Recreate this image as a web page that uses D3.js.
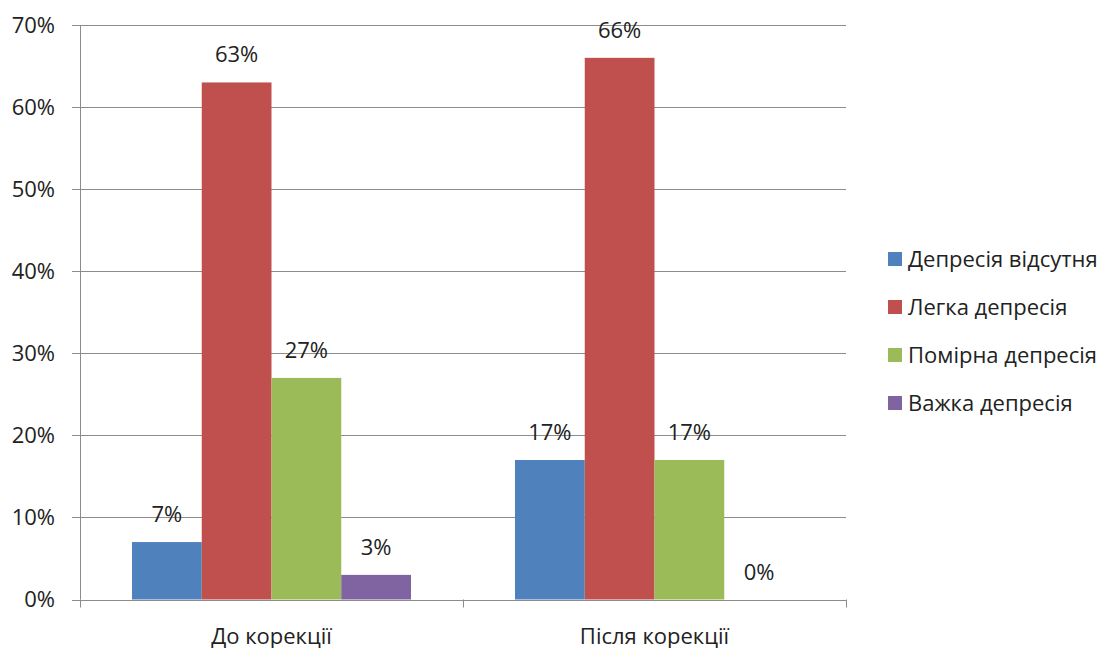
<!DOCTYPE html>
<html>
<head>
<meta charset="utf-8">
<script src="https://cdn.jsdelivr.net/npm/d3@7"></script>
<style>
  html, body { margin: 0; padding: 0; background: #fff; }
  svg { display: block; }
  text { font-family: "Open Sans", "Liberation Sans", sans-serif; fill: #222; }
</style>
</head>
<body>
<svg id="chart" width="1117" height="648"></svg>
<script>
// Groups along the x axis
const groups = ["До корекції", "Після корекції"];
// Series names (legend order)
const seriesNames = ["Депресія відсутня", "Легка депресія", "Помірна депресія", "Важка депресія"];
const seriesColors = ["#4f81bd", "#c0504d", "#9bbb59", "#8064a2"];
// Percent values per series, one per group
const noDepression = [7, 17];
const mildDepression = [63, 66];
const moderateDepression = [27, 17];
const severeDepression = [3, 0];
const yTicks = [0, 10, 20, 30, 40, 50, 60, 70];

const seriesValues = [noDepression, mildDepression, moderateDepression, severeDepression];

const FS = 22;
const svg = d3.select("#chart");
const margin = { left: 80, right: 271, top: 25, bottom: 48.5 };
const W = 1117, H = 648;
const plotW = W - margin.left - margin.right;
const plotH = H - margin.top - margin.bottom;

const g = svg.append("g").attr("transform", `translate(${margin.left},${margin.top})`);

const x0 = d3.scaleBand().domain(groups).range([0, plotW]).paddingInner(0).paddingOuter(0);
const x1 = d3.scaleBand().domain(seriesNames).range([52, x0.bandwidth() - 52]).padding(0);
const y = d3.scaleLinear().domain([0, 70]).range([plotH, 0]);

// horizontal gridlines
g.append("g").selectAll("line").data(yTicks).join("line")
  .attr("x1", -8).attr("x2", plotW)
  .attr("y1", d => Math.round(y(d)) + 0.5).attr("y2", d => Math.round(y(d)) + 0.5)
  .attr("stroke", "#8c8c8c").attr("stroke-width", 1);

// y tick labels
g.append("g").selectAll("text").data(yTicks).join("text")
  .attr("x", -25).attr("y", d => y(d))
  .attr("dy", "0.35em")
  .attr("text-anchor", "end")
  .attr("font-size", FS)
  .text(d => d + "%");

// bars with value labels
const groupSel = g.append("g").selectAll("g").data(groups).join("g")
  .attr("transform", d => `translate(${x0(d)},0)`);

groupSel.each(function (grp, gi) {
  const sel = d3.select(this);
  seriesNames.forEach((s, si) => {
    const v = seriesValues[si][gi];
    sel.append("rect")
      .attr("x", x1(s)).attr("width", x1.bandwidth())
      .attr("y", y(v)).attr("height", plotH - y(v))
      .attr("fill", seriesColors[si]);
    sel.append("text")
      .attr("x", x1(s) + x1.bandwidth() / 2)
      .attr("y", y(v) - 20)
      .attr("text-anchor", "middle")
      .attr("font-size", FS)
      .text(v + "%");
  });
});

// y axis line
g.append("line").attr("x1", 0.5).attr("x2", 0.5).attr("y1", 0).attr("y2", plotH)
  .attr("stroke", "#8c8c8c");
// x axis line and category ticks
g.append("line").attr("x1", 0).attr("x2", plotW)
  .attr("y1", Math.round(plotH) + 0.5).attr("y2", Math.round(plotH) + 0.5)
  .attr("stroke", "#8c8c8c");
const tickX = [0, x0.bandwidth(), plotW];
g.append("g").selectAll("line").data(tickX).join("line")
  .attr("x1", d => Math.round(d) + 0.5).attr("x2", d => Math.round(d) + 0.5)
  .attr("y1", plotH).attr("y2", plotH + 8)
  .attr("stroke", "#8c8c8c");

// category labels
g.append("g").selectAll("text").data(groups).join("text")
  .attr("x", d => x0(d) + x0.bandwidth() / 2)
  .attr("y", plotH + 44)
  .attr("text-anchor", "middle")
  .attr("font-size", FS)
  .text(d => d);

// legend
const legend = svg.append("g").attr("transform", "translate(888,259)");
seriesNames.forEach((s, i) => {
  const row = legend.append("g").attr("transform", `translate(0,${i * 48})`);
  row.append("rect").attr("x", 0).attr("y", -7).attr("width", 14).attr("height", 14)
    .attr("fill", seriesColors[i]);
  row.append("text").attr("x", 20).attr("y", 0).attr("dy", "0.35em")
    .attr("font-size", FS).text(s);
});
</script>
</body>
</html>
